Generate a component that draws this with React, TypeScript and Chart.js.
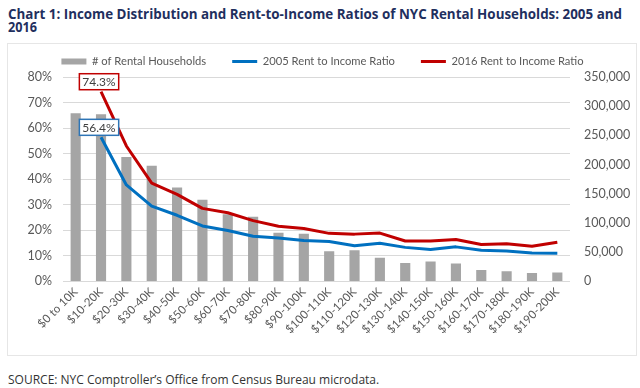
import React, { useEffect, useLayoutEffect, useRef } from 'react';
import { Chart, registerables } from 'chart.js';

Chart.register(...registerables);

const categories = [
  '$0 to 10K', '$10-20K', '$20-30K', '$30-40K', '$40-50K', '$50-60K', '$60-70K',
  '$70-80K', '$80-90K', '$90-100K', '$100-110K', '$110-120K', '$120-130K', '$130-140K',
  '$140-150K', '$150-160K', '$160-170K', '$170-180K', '$180-190K', '$190-200K',
];
const rentalHouseholds = [
  288000, 286500, 213000, 198000, 160500, 139500, 114500, 110500, 83000, 81000,
  51000, 52800, 39800, 31000, 33500, 30000, 19000, 16600, 13800, 14800,
];
const ratio2005 = [
  null, 56.4, 37.7, 29.4, 25.8, 21.6, 19.8, 17.6, 16.9, 15.9,
  15.5, 13.8, 14.8, 13.2, 12.4, 13.4, 12.1, 11.8, 11.0, 10.9,
];
const ratio2016 = [
  null, 74.3, 53.0, 38.4, 34.0, 28.5, 26.8, 23.7, 21.5, 20.6,
  18.7, 18.4, 18.8, 15.7, 15.7, 16.3, 14.3, 14.6, 13.6, 15.2,
];
const seriesNames = ['# of Rental Households', '2005 Rent to Income Ratio', '2016 Rent to Income Ratio'];
const leftAxisMax = 80;
const leftAxisStep = 10;
const rightAxisMax = 350000;
const rightAxisStep = 50000;
const titleLine1 = 'Chart 1: Income Distribution and Rent-to-Income Ratios of NYC Rental Households: 2005 and';
const titleLine2 = '2016';
const sourceText = 'SOURCE: NYC Comptroller\u2019s Office from Census Bureau microdata.';

const TICK_COLOR = '#595959';
const FONT = 'Lato';

const calloutPlugin = {
  id: 'callouts',
  afterDatasetsDraw(chart: any) {
    const ctx = chart.ctx;
    const specs = [
      { ds: 0, color: '#c00000' },
      { ds: 1, color: '#2e75b6' },
    ];
    specs.forEach(({ ds, color }) => {
      const data = chart.data.datasets[ds].data as (number | null)[];
      const idx = data.findIndex((v) => v !== null);
      if (idx < 0) return;
      const pt = chart.getDatasetMeta(ds).data[idx];
      const text = `${(data[idx] as number).toFixed(1)}%`;
      ctx.save();
      ctx.font = `12px ${FONT}`;
      const tw = ctx.measureText(text).width;
      const w = tw + 6;
      const h = 16;
      const cx = pt.x - 2;
      const bottom = pt.y - 2;
      ctx.fillStyle = '#ffffff';
      ctx.fillRect(cx - w / 2, bottom - h, w, h);
      ctx.lineWidth = 1.5;
      ctx.strokeStyle = color;
      ctx.strokeRect(cx - w / 2, bottom - h, w, h);
      ctx.fillStyle = '#404040';
      ctx.textAlign = 'center';
      ctx.textBaseline = 'middle';
      ctx.fillText(text, cx, bottom - h / 2 + 0.5);
      ctx.restore();
    });
  },
};

function FitLine({ text, width, top, style }: { text: string; width: number; top: number; style: any }) {
  const ref = useRef<HTMLSpanElement>(null);
  useLayoutEffect(() => {
    const el = ref.current;
    if (!el) return;
    el.style.transform = 'none';
    const w = el.getBoundingClientRect().width;
    if (w > 0) el.style.transform = `scaleX(${width / w})`;
  }, [text, width]);
  return (
    <span
      ref={ref}
      style={{
        position: 'absolute',
        left: 8,
        top,
        whiteSpace: 'nowrap',
        transformOrigin: 'left top',
        display: 'inline-block',
        ...style,
      }}
    >
      {text}
    </span>
  );
}

export default function App() {
  const canvasRef = useRef<HTMLCanvasElement>(null);

  useEffect(() => {
    if (!canvasRef.current) return;
    const chart = new Chart(canvasRef.current, {
      type: 'bar',
      data: {
        labels: categories,
        datasets: [
          {
            type: 'line',
            label: seriesNames[2],
            data: ratio2016,
            yAxisID: 'y',
            borderColor: '#c00000',
            backgroundColor: '#c00000',
            borderWidth: 3,
            pointRadius: 0,
            fill: false,
            tension: 0,
            borderJoinStyle: 'round',
          } as any,
          {
            type: 'line',
            label: seriesNames[1],
            data: ratio2005,
            yAxisID: 'y',
            borderColor: '#0070c0',
            backgroundColor: '#0070c0',
            borderWidth: 3,
            pointRadius: 0,
            fill: false,
            tension: 0,
            borderJoinStyle: 'round',
          } as any,
          {
            type: 'bar',
            label: seriesNames[0],
            data: rentalHouseholds,
            yAxisID: 'y1',
            backgroundColor: '#a5a5a5',
            borderWidth: 0,
            barPercentage: 0.4,
            categoryPercentage: 1,
          } as any,
        ],
      },
      options: {
        responsive: false,
        animation: false,
        devicePixelRatio: 1,
        layout: { padding: 0 },
        plugins: {
          legend: {
            display: true,
            position: 'top',
            align: 'center',
            reverse: true,
            labels: {
              usePointStyle: true,
              pointStyleWidth: 25,
              boxHeight: 6,
              padding: 26,
              color: TICK_COLOR,
              font: { family: FONT, size: 11.2 },
              generateLabels: (c: any) => {
                const items = (Chart.defaults.plugins.legend.labels as any).generateLabels(c);
                items.forEach((it: any) => {
                  const isBar = it.datasetIndex === 2;
                  it.pointStyle = isBar ? 'rect' : 'line';
                  it.lineWidth = isBar ? 0 : 3;
                  it.fontColor = TICK_COLOR;
                });
                return items;
              },
            },
          },
          tooltip: { enabled: false },
        },
        scales: {
          x: {
            grid: { display: false, drawTicks: false },
            border: { display: false },
            ticks: {
              autoSkip: false,
              maxRotation: 45,
              minRotation: 45,
              color: TICK_COLOR,
              font: { family: FONT, size: 11.5 },
              padding: 4,
            },
            afterFit: (s: any) => {
              s.height = 74;
            },
          },
          y: {
            position: 'left',
            min: 0,
            max: leftAxisMax,
            ticks: {
              stepSize: leftAxisStep,
              callback: (v: any) => `${v}%`,
              color: TICK_COLOR,
              font: { family: FONT, size: 12.5 },
              padding: 11,
            },
            grid: { color: '#d9d9d9', lineWidth: 1, drawTicks: false },
            border: { display: false },
            afterFit: (s: any) => {
              s.width = 55;
            },
          },
          y1: {
            position: 'right',
            min: 0,
            max: rightAxisMax,
            ticks: {
              stepSize: rightAxisStep,
              callback: (v: any) => Number(v).toLocaleString('en-US'),
              color: TICK_COLOR,
              font: { family: FONT, size: 12.5 },
              padding: 14,
            },
            grid: { display: false, drawTicks: false },
            border: { display: false },
            afterFit: (s: any) => {
              s.width = 67;
            },
          },
        },
      },
      plugins: [calloutPlugin],
    } as any);
    return () => chart.destroy();
  }, []);

  const titleStyle = {
    fontFamily: '"Open Sans"',
    fontWeight: 700,
    fontSize: 13.5,
    lineHeight: '13.5px',
    color: '#1f2f5e',
  };

  return (
    <div style={{ position: 'absolute', left: 0, top: 0, width: 640, height: 388, background: '#fff', overflow: 'hidden' }}>
      <FitLine text={titleLine1} width={614} top={7.5} style={titleStyle} />
      <FitLine text={titleLine2} width={29} top={20.7} style={titleStyle} />
      <div
        style={{
          position: 'absolute',
          left: 7,
          top: 43,
          width: 630,
          height: 313,
          border: '1px solid #e6e6e6',
          boxSizing: 'border-box',
        }}
      />
      <canvas
        ref={canvasRef}
        width={629}
        height={325}
        style={{ position: 'absolute', left: 8, top: 30, width: 629, height: 325 }}
      />
      <div
        style={{
          position: 'absolute',
          left: 8,
          top: 374.3,
          fontFamily: '"Open Sans"',
          fontSize: 12,
          lineHeight: '12px',
          color: '#333333',
          whiteSpace: 'nowrap',
        }}
      >
        {sourceText}
      </div>
    </div>
  );
}
